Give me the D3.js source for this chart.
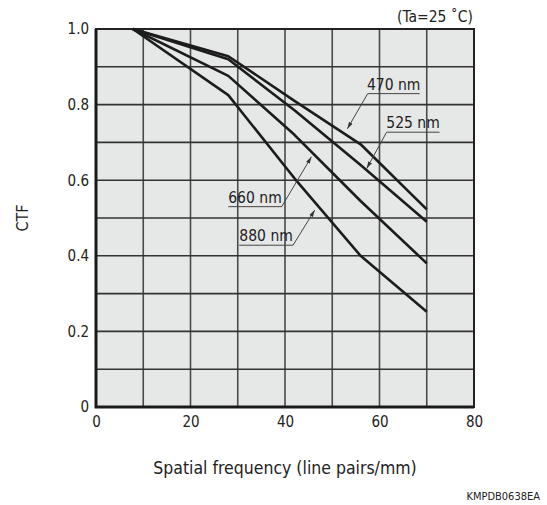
<!DOCTYPE html>
<html>
<head>
<meta charset="utf-8">
<script src="https://cdn.jsdelivr.net/npm/d3@7"></script>
<style>
  body { margin: 0; background: #fff; }
  text { font-family: "DejaVu Sans Condensed", "DejaVu Sans", sans-serif; fill: #222; }
</style>
</head>
<body>
<div id="chart"></div>
<script>
// spatial frequency (lp/mm) at which CTF was read
var freq = [7.8, 28, 42, 56, 70];
var ctf470 = [1.0, 0.928, 0.81, 0.695, 0.523];
var ctf525 = [1.0, 0.92, 0.785, 0.64, 0.49];
var ctf660 = [1.0, 0.876, 0.72, 0.545, 0.38];
var ctf880 = [1.0, 0.825, 0.605, 0.40, 0.252];

var xTicks = [0, 20, 40, 60, 80];
var yTicks = [0, 0.2, 0.4, 0.6, 0.8, 1.0];
var yTickLabels = ["0", "0.2", "0.4", "0.6", "0.8", "1.0"];

// label: text, arrow tip on curve, elbow and underline end (data units)
var labels = [
  {text: "470 nm", tip: [53.2, 0.736], elbow: [57.5, 0.829], end: [68.5, 0.829]},
  {text: "525 nm", tip: [57.3, 0.631], elbow: [61.5, 0.727], end: [72.7, 0.727]},
  {text: "660 nm", tip: [45.6, 0.662], elbow: [39.3, 0.530], end: [28.0, 0.530]},
  {text: "880 nm", tip: [46.3, 0.521], elbow: [41.7, 0.428], end: [30.3, 0.428]}
];

var width = 547, height = 505;
var margin = {left: 96, top: 29, right: 73, bottom: 98};

var svg = d3.select("#chart").append("svg")
    .attr("width", width)
    .attr("height", height);

var x = d3.scaleLinear().domain([0, 80]).range([margin.left, width - margin.right]);
var y = d3.scaleLinear().domain([0, 1]).range([height - margin.bottom, margin.top]);

svg.append("rect")
    .attr("x", x(0)).attr("y", y(1))
    .attr("width", x(80) - x(0)).attr("height", y(0) - y(1))
    .attr("fill", "#e6e7e7");

// grid
svg.append("g")
    .selectAll("line")
    .data(d3.range(10, 80, 10))
    .enter().append("line")
    .attr("x1", function(d) { return x(d); })
    .attr("x2", function(d) { return x(d); })
    .attr("y1", y(0)).attr("y2", y(1))
    .attr("stroke", "#4a4a4a").attr("stroke-width", 1.6);

svg.append("g")
    .selectAll("line")
    .data(d3.range(1, 10).map(function(d) { return d / 10; }))
    .enter().append("line")
    .attr("y1", function(d) { return y(d); })
    .attr("y2", function(d) { return y(d); })
    .attr("x1", x(0)).attr("x2", x(80))
    .attr("stroke", "#333").attr("stroke-width", 1.6);

// frame
svg.append("rect")
    .attr("x", x(0)).attr("y", y(1))
    .attr("width", x(80) - x(0)).attr("height", y(0) - y(1))
    .attr("fill", "none").attr("stroke", "#222").attr("stroke-width", 2);
svg.append("path")
    .attr("d", "M" + x(0) + "," + y(1) + "V" + y(0) + "H" + x(80))
    .attr("fill", "none").attr("stroke", "#1a1a1a").attr("stroke-width", 3);

// axes (labels only)
var xAxis = d3.axisBottom(x).tickValues(xTicks).tickSize(0).tickPadding(9);
svg.append("g")
    .attr("transform", "translate(0," + y(0) + ")")
    .call(xAxis)
    .call(function(g) { g.select(".domain").remove(); })
    .selectAll("text")
    .style("font-size", "15px")
    .attr("fill", "#222");

var yAxis = d3.axisLeft(y).tickValues(yTicks).tickSize(0).tickPadding(7)
    .tickFormat(function(d, i) { return yTickLabels[i]; });
svg.append("g")
    .attr("transform", "translate(" + x(0) + ",0)")
    .call(yAxis)
    .call(function(g) { g.select(".domain").remove(); })
    .selectAll("text")
    .style("font-size", "15px")
    .attr("fill", "#222");

// curves
var line = d3.line()
    .x(function(d) { return x(d[0]); })
    .y(function(d) { return y(d[1]); });

[ctf470, ctf525, ctf660, ctf880].forEach(function(s) {
    svg.append("path")
        .datum(freq.map(function(f, i) { return [f, s[i]]; }))
        .attr("d", line)
        .attr("fill", "none")
        .attr("stroke", "#1c1c1c")
        .attr("stroke-width", 2.6)
        .attr("stroke-linejoin", "round");
});

// labels with leader lines
svg.append("defs").append("marker")
    .attr("id", "arr")
    .attr("viewBox", "0 0 10 10")
    .attr("refX", 10).attr("refY", 5)
    .attr("markerWidth", 7).attr("markerHeight", 7)
    .attr("orient", "auto")
    .append("path").attr("d", "M0,2 L10,5 L0,8 Z").attr("fill", "#333");

labels.forEach(function(l) {
    svg.append("path")
        .attr("d", "M" + x(l.end[0]) + "," + y(l.end[1]) +
                   "H" + x(l.elbow[0]) +
                   "L" + x(l.tip[0]) + "," + y(l.tip[1]))
        .attr("fill", "none")
        .attr("stroke", "#444")
        .attr("stroke-width", 1)
        .attr("marker-end", "url(#arr)");
    var left = Math.min(l.end[0], l.elbow[0]);
    var right = Math.max(l.end[0], l.elbow[0]);
    svg.append("text")
        .attr("x", (x(left) + x(right)) / 2)
        .attr("y", y(l.end[1]) - 4)
        .attr("text-anchor", "middle")
        .style("font-size", "15.5px")
        .text(l.text);
});

// titles
svg.append("text")
    .attr("x", (x(0) + x(80)) / 2)
    .attr("y", 474)
    .attr("text-anchor", "middle")
    .style("font-size", "17.5px")
    .text("Spatial frequency (line pairs/mm)");

svg.append("text")
    .attr("transform", "translate(28," + (y(0.5)) + ") rotate(-90)")
    .attr("text-anchor", "middle")
    .style("font-size", "16px")
    .text("CTF");

svg.append("text")
    .attr("x", x(80) - 1)
    .attr("y", 22)
    .attr("text-anchor", "end")
    .style("font-size", "15.5px")
    .text("(Ta=25 ˚C)");

svg.append("text")
    .attr("x", 540)
    .attr("y", 500)
    .attr("text-anchor", "end")
    .style("font-size", "11px")
    .text("KMPDB0638EA");
</script>
</body>
</html>
